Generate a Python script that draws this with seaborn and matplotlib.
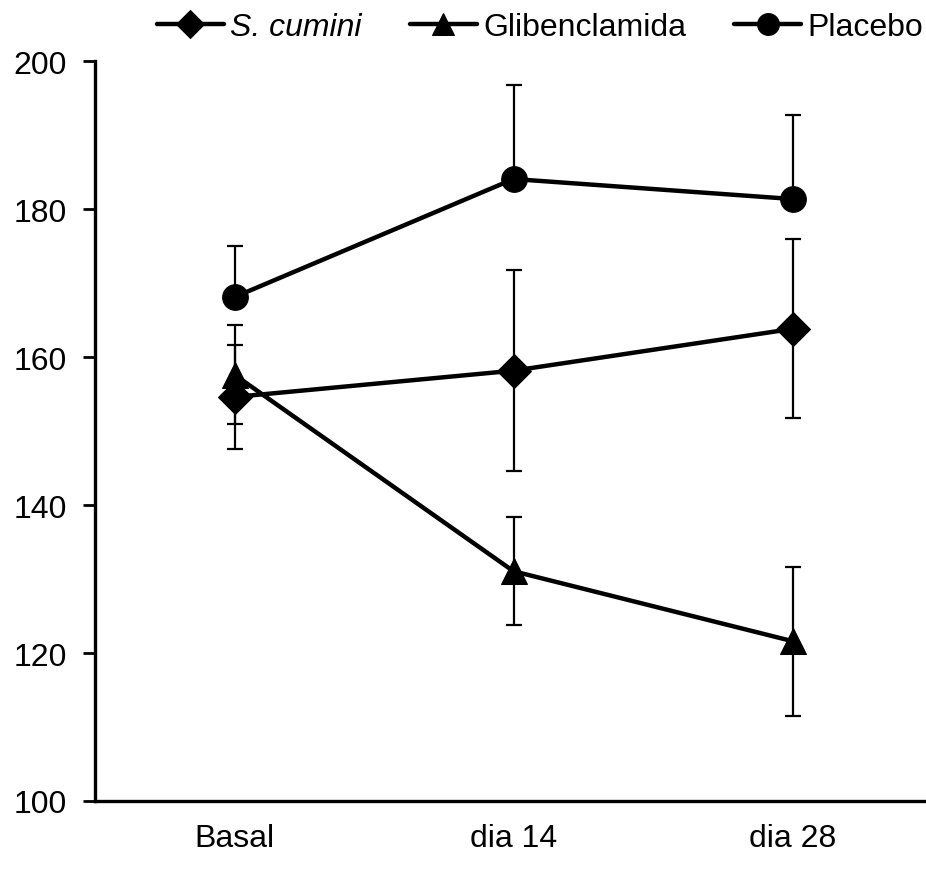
import matplotlib
matplotlib.use("Agg")
import matplotlib.pyplot as plt
import seaborn as sns
import pandas as pd
import numpy as np

# ---- data ----
times = ["Basal", "dia 14", "dia 28"]
groups = ["S. cumini", "Glibenclamida", "Placebo"]
s_cumini = [154.6, 158.15, 163.8]
s_cumini_err = [7.0, 13.55, 12.1]
gliben = [157.6, 131.05, 121.6]
gliben_err = [6.7, 7.3, 10.05]
placebo = [168.1, 184.05, 181.35]
placebo_err_up = [6.9, 12.75, 11.35]
yticks = [100, 120, 140, 160, 180, 200]

sns.set_theme(style="white")
plt.rcParams['font.family'] = ['Liberation Sans', 'DejaVu Sans']
plt.rcParams['text.color'] = 'black'
plt.rcParams['xtick.color'] = 'black'
plt.rcParams['ytick.color'] = 'black'

fig = plt.figure(figsize=(9.26, 8.70), dpi=100)
W, H = 926, 870
ax = fig.add_axes([95 / W, (H - 802) / H, 837 / W, 740 / H])

series = {
    "S. cumini": (s_cumini, [s_cumini_err, s_cumini_err], "D", 17),
    "Glibenclamida": (gliben, [gliben_err, gliben_err], "^", 19),
    "Placebo": (placebo, [[0, 0, 0], placebo_err_up], "o", 18.5),
}

for g in groups:
    vals, err, mk, ms = series[g]
    df = pd.DataFrame({"time": times, "value": vals})
    ax.errorbar(x=np.arange(len(times)), y=vals, yerr=np.array(err), fmt="none",
                ecolor="black", elinewidth=1.6, capsize=6, capthick=1.6, zorder=2)
    sns.lineplot(data=df, x="time", y="value", ax=ax, color="black", linewidth=3.2,
                 marker=mk, markersize=ms, markeredgecolor="black",
                 markerfacecolor="black", label=g, zorder=3, sort=False)

ax.set_xlim(-0.5, 2.5)
ax.set_ylim(100, 200)
ax.set_yticks(yticks)
ax.set_xticks(range(len(times)))
ax.set_xticklabels(times)
ax.set_xlabel("")
ax.set_ylabel("")
for s in ["top", "right"]:
    ax.spines[s].set_visible(False)
for s in ["left", "bottom"]:
    ax.spines[s].set_color("black")
    ax.spines[s].set_linewidth(2.4)
ax.tick_params(axis="y", which="major", direction="out", length=9, width=2,
               color="black", labelcolor="black", labelsize=23, pad=11, left=True)
ax.tick_params(axis="x", which="major", length=0, labelsize=23, labelcolor="black", pad=16)

handles, labels = ax.get_legend_handles_labels()
if ax.get_legend():
    ax.get_legend().remove()
leg = fig.legend(handles, labels, loc="center", bbox_to_anchor=(540 / W, 1 - 28 / H),
                 ncol=3, frameon=False, fontsize=23, handlelength=2.1,
                 handletextpad=0.2, columnspacing=1.5, markerscale=0.85)
for t in leg.get_texts():
    t.set_color("black")
leg.get_texts()[0].set_fontstyle("italic")

fig.savefig("out.png", dpi=100)
